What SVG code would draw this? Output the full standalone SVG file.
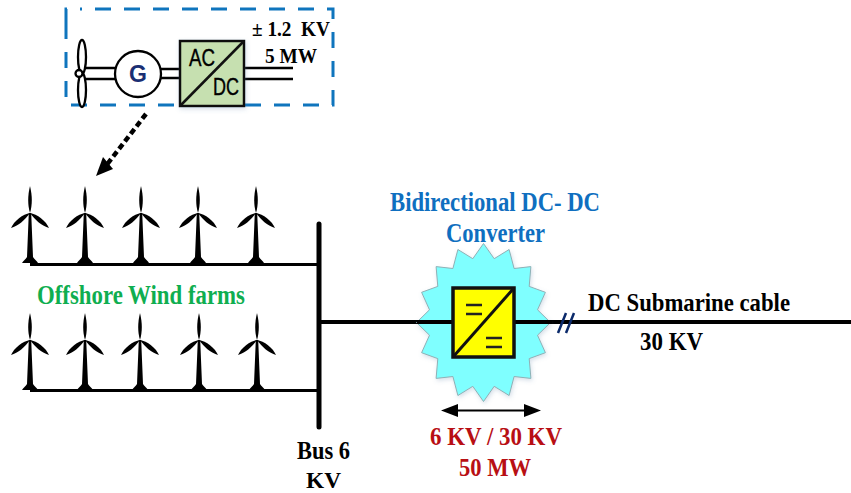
<svg xmlns="http://www.w3.org/2000/svg" width="851" height="493" viewBox="0 0 851 493">
<style>
text{font-family:"Liberation Serif",serif;font-weight:bold;fill:#000}
.k{stroke:#000;fill:none}
.blue{fill:#0f6fc0}.red{fill:#b80f14}.green{fill:#0fae50}
.sans{font-family:"Liberation Sans",sans-serif;font-weight:normal;stroke:#000;stroke-width:.4}
</style>
<defs>
<filter id="soft" x="-10%" y="-10%" width="120%" height="120%"><feGaussianBlur stdDeviation="0.5"/></filter>
<filter id="sh" x="-15%" y="-15%" width="130%" height="130%"><feDropShadow dx="1" dy="2" stdDeviation="2" flood-color="#5b7fa8" flood-opacity="0.25"/></filter>
<g id="turb">
<path d="M-21,55H23" stroke="#e6f0fa" stroke-width="2" filter="url(#soft)"/>
<g filter="url(#soft)">
<path d="M0,-27C2.400,-17 2.400,-8 0,0C-2.400,-8 -2.400,-17 0,-27Z" fill="#000"/>
<path d="M0,0C-7,1 -16,8 -19,15C-12,13 -5,7 0,0Z" fill="#000"/>
<path d="M0,0C7,1 16,8 19,15C12,13 5,7 0,0Z" fill="#000"/>
<path d="M-1.200,0H1.200L3,44C4,46 7,48 8,50H-8C-7,48 -4,46 -3,44Z" fill="#000"/>
</g>
</g>
</defs>
<rect width="851" height="493" fill="#fff"/>
<g id="farm-top">
<use href="#turb" x="30" y="213"/><use href="#turb" x="85" y="213"/><use href="#turb" x="141" y="213"/><use href="#turb" x="198" y="213"/><use href="#turb" x="256" y="213"/>
</g>
<g id="farm-bottom">
<use href="#turb" x="30" y="340"/><use href="#turb" x="85" y="340"/><use href="#turb" x="140" y="340"/><use href="#turb" x="199" y="340"/><use href="#turb" x="257" y="340"/>
</g>
<g id="connectors">
<path class="k" stroke-width="3" d="M30,264.500H318M30,390.500H318"/>
<path class="k" stroke-width="5" stroke-linecap="round" d="M319,224V427"/>
<path class="k" stroke-width="4" d="M319,322H851"/>
<path class="k" stroke-width="2.500" d="M244,68H293M244,79H293"/>
<path d="M146,114L105,167" stroke="#000" stroke-width="4.500" stroke-dasharray="6 3.500" fill="none"/>
<path d="M96,176L103,157L113,169Z" fill="#000"/>
<path d="M558,333L566,313M566,333L574,313" stroke="#0b2a6b" stroke-width="2.500" fill="none"/>
<path d="M445,410.500H537" stroke="#000" stroke-width="2"/>
<path d="M441,410.500L458,404V417ZM541,410.500L524,404V417Z" fill="#000"/>
</g>
<g id="wind-detail">
<path d="M66,24V9H82M95,9H333V105H66V24" fill="none" stroke="#0f75bd" stroke-width="3" stroke-dasharray="16 13"/>
<g stroke="#000" stroke-width="2.300">
<path d="M85,68H115M85,79H115M160,69H180M160,78H180" fill="none"/>
<ellipse cx="82" cy="57" rx="4" ry="17" fill="#fff"/>
<ellipse cx="82" cy="90" rx="4" ry="17" fill="#fff"/>
<circle cx="79" cy="73.500" r="3.500" fill="#fff"/>
<circle cx="138" cy="74" r="23" fill="#fff"/>
</g>
<text x="138" y="82" font-size="23" text-anchor="middle" style="font-family:'Liberation Sans',sans-serif;fill:#1a2f73">G</text>
</g>
<g id="acdc">
<rect x="180" y="41" width="64" height="65" fill="#c6e0b0" stroke="#111" stroke-width="2.500" filter="url(#sh)"/>
<path d="M180,106L244,41" stroke="#111" stroke-width="2.500"/>
<text class="sans" x="189" y="66" font-size="24" textLength="26" lengthAdjust="spacingAndGlyphs">AC</text>
<text class="sans" x="213" y="95" font-size="24" textLength="26" lengthAdjust="spacingAndGlyphs">DC</text>
</g>
<g id="rating">
<text x="252" y="36" font-size="21" textLength="78" lengthAdjust="spacingAndGlyphs" xml:space="preserve">± 1.2  KV</text>
<text x="265" y="63" font-size="21" textLength="52" lengthAdjust="spacingAndGlyphs">5 MW</text>
</g>
<text class="green" x="37" y="304" font-size="27" textLength="208" lengthAdjust="spacingAndGlyphs">Offshore Wind farms</text>
<g id="converter">
<path filter="url(#sh)" fill="#7fffff" stroke="#8fb0b5" stroke-width="1" d="M483.500,243.500L494.200,258.700L509.100,249.500L514.100,268.500L530.900,266.600L529.200,286.400L545.400,292.300L537.500,309.800L550.500,322.500L537.500,335.200L545.400,352.700L529.200,358.600L530.900,378.400L514.100,376.500L509.100,395.500L494.200,386.300L483.500,401.500L472.800,386.300L457.900,395.500L452.900,376.500L436.100,378.400L437.800,358.600L421.600,352.700L429.500,335.200L416.500,322.500L429.500,309.800L421.600,292.300L437.800,286.400L436.100,266.600L452.900,268.500L457.900,249.500L472.800,258.700Z"/>
<path class="k" stroke-width="4" d="M417,322H452M514,322H552"/>
<rect x="453" y="288" width="61" height="69" fill="#ffff00" stroke="#111" stroke-width="3.500"/>
<path d="M453,357L514,288" stroke="#111" stroke-width="3"/>
<path d="M466,305H482M466,314H482M486,338H502M486,347H502" stroke="#222" stroke-width="2.500"/>
</g>
<text class="blue" x="390" y="211" font-size="27" textLength="210" lengthAdjust="spacingAndGlyphs">Bidirectional DC- DC</text>
<text class="blue" x="446" y="242" font-size="27" textLength="99" lengthAdjust="spacingAndGlyphs">Converter</text>
<text x="588" y="311" font-size="26" textLength="202" lengthAdjust="spacingAndGlyphs">DC Submarine cable</text>
<text x="640" y="350" font-size="26" textLength="63" lengthAdjust="spacingAndGlyphs">30 KV</text>
<text class="red" x="430" y="445" font-size="26" textLength="132" lengthAdjust="spacingAndGlyphs">6 KV / 30 KV</text>
<text class="red" x="459" y="476" font-size="26" textLength="72" lengthAdjust="spacingAndGlyphs">50 MW</text>
<text x="297" y="459" font-size="26" textLength="53" lengthAdjust="spacingAndGlyphs">Bus 6</text>
<text x="306" y="487.500" font-size="23" textLength="35" lengthAdjust="spacingAndGlyphs">KV</text>
</svg>
